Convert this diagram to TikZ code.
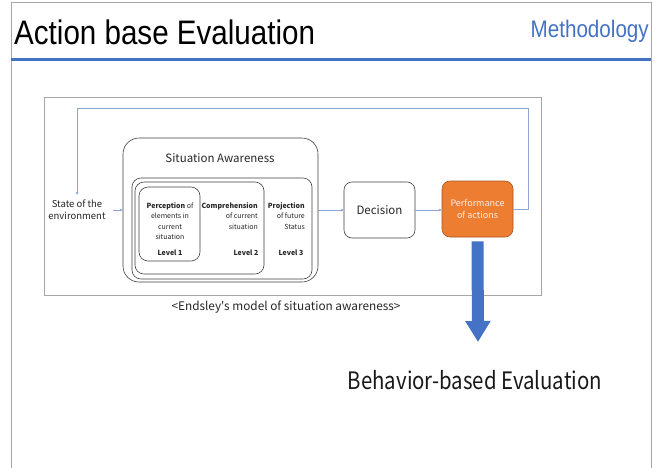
\documentclass[tikz,border=0pt]{standalone}
\usepackage{fontspec}
\setmainfont{Liberation Sans}
\newfontfamily\krfont{Noto Sans CJK KR}
\usetikzlibrary{positioning,arrows.meta,calc}
\definecolor{slideblue}{HTML}{4472C4}
\definecolor{linkblue}{HTML}{8EA4D2}
\definecolor{actorange}{HTML}{ED7D31}
\definecolor{framegray}{HTML}{A6A6A6}

\begin{document}
\begin{tikzpicture}[x=1pt, y=-1pt,
  box/.style={draw=black!75, line width=0.6pt, rounded corners=9pt, inner sep=0pt},
  txt/.style={font=\krfont\fontsize{7}{10.5}\selectfont, text=black!85, inner sep=1pt},
  link/.style={draw=linkblue, line width=0.6pt, -{Stealth[length=3pt, width=3pt]}}]
\useasboundingbox (0,0) rectangle (658,467);
\fill[white] (0,0) rectangle (658,467);
\draw[framegray, line width=0.8pt] (11,470) -- (11,2) -- (651,2) -- (651,470);
\node[anchor=west, inner sep=0pt, font=\fontsize{34}{36}\selectfont] (title) at (14,32)
  {\scalebox{0.87}[1]{Action base Evaluation}};
\node[anchor=east, inner sep=0pt, text=slideblue, font=\fontsize{24}{26}\selectfont] (meth) at (649,31)
  {\scalebox{0.86}[1]{Methodology}};
\draw[slideblue, line width=3pt] (11,59) -- (651,59);
\draw[framegray, line width=0.8pt] (44,97) rectangle (541,295);
\node[txt, font=\krfont\fontsize{9.5}{12}\selectfont, align=center] (env) at (77,210)
  {State of the\\environment};
\node[box, rounded corners=16pt, minimum width=195pt, minimum height=144pt] (sa) at (220.5,210) {};
\node[txt, font=\krfont\fontsize{11.5}{13}\selectfont] (salab) at (220,158) {Situation Awareness};
\node[box, minimum width=180pt, minimum height=101pt] (lvl3) at (222,228.5) {};
\node[box, minimum width=129pt, minimum height=92pt] (lvl2) at (199.5,228) {};
\node[box, minimum width=61pt, minimum height=74pt] (lvl1) at (169.5,224) {};
\node[txt, align=center, anchor=north] (perc) at (170,201)
  {\textbf{Perception} of\\elements in\\current\\situation};
\node[txt, align=right, anchor=north east] (comp) at (259,201)
  {\textbf{Comprehension}\\of current\\situation};
\node[txt, align=right, anchor=north east] (proj) at (306,201)
  {\textbf{Projection}\\of future\\Status};
\foreach \x/\n in {170/1, 246/2, 291/3}
  \node[txt] (lv\n) at (\x,253) {\textbf{Level \n}};
\node[box, rounded corners=8pt, minimum width=71pt, minimum height=56pt, txt,
  font=\krfont\fontsize{11.5}{13}\selectfont] (dec) at (379.5,210) {Decision};
\node[box, rounded corners=8pt, minimum width=71pt, minimum height=56pt, txt,
  draw=actorange!70!black, fill=actorange, text=white!88!actorange, align=center,
  font=\krfont\fontsize{9}{11.5}\selectfont] (perf) at (477.5,209) {Performance\\of actions};
\coordinate (fbtop) at (528,108);
\draw[link, shorten <=6pt] (env.east) -- (env.east -| sa.west);
\draw[link] (sa.east |- dec.west) -- (dec.west);
\draw[link] (dec.east) -- (perf.west |- dec.east);
\draw[link] (perf.east) -| (fbtop) -| ([yshift=4pt]env.north);
\node[txt, font=\krfont\fontsize{11.8}{13}\selectfont] (cap) at (286,307)
  {\textless Endsley's model of situation awareness\textgreater};
\coordinate (tip) at (478,342);
\draw[slideblue, line width=12pt, -{Triangle[width=24pt, length=21pt]}]
  ([yshift=-4pt]perf.south) -- (tip);
\node[txt, text=black!90, font=\krfont\fontsize{24}{26}\selectfont] (beh) at (475,380)
  {\scalebox{0.85}[1]{Behavior-based Evaluation}};
\end{tikzpicture}
\end{document}
